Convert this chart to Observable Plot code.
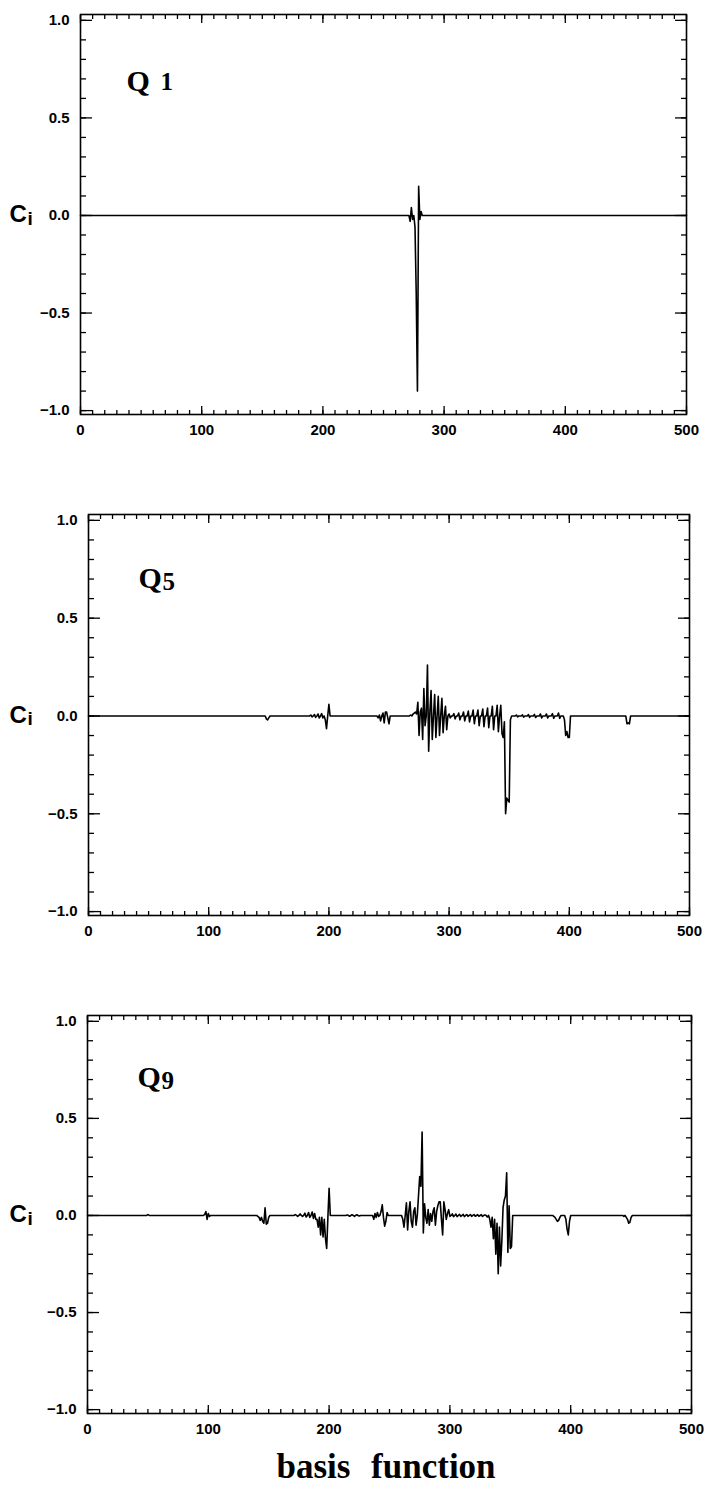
<!DOCTYPE html>
<html><head><meta charset="utf-8">
<script src="https://cdn.jsdelivr.net/npm/d3@7"></script>
<script src="https://cdn.jsdelivr.net/npm/@observablehq/plot@0.6"></script>
<style>
html,body{margin:0;padding:0;background:#fff;}
body{width:706px;height:1488px;position:relative;overflow:hidden;}
.panel{position:absolute;left:0;}
#xlabel{position:absolute;left:0;width:772px;top:1449px;text-align:center;font-family:"Liberation Serif",serif;font-weight:bold;font-size:35px;line-height:1;word-spacing:12px;color:#000;}
</style></head><body>
<div id="p1" class="panel" style="top:0px"></div>
<div id="p2" class="panel" style="top:500px"></div>
<div id="p3" class="panel" style="top:1001px"></div>
<div id="xlabel">basis function</div>
<script>
// ---- axis ticks ----
const xMajorTicks = [0, 100, 200, 300, 400, 500];
const xMinorTicks = d3.range(0, 501, 10);
const yMajorTicks = [-1.0, -0.5, 0.0, 0.5, 1.0];
const yMinorTicks = d3.range(-10, 11).map(k => k / 10);
const basisIndex = d3.range(0, 501);
const xAxisLabel = "basis function";
const yAxisLabel = ["C", "i"];

// ---- Q1 coefficients (non-zero entries) ----
const q1Index = [272, 273, 274, 275, 276, 277, 278, 279, 280, 281, 282];
const q1Coef  = [-0.03, 0.04, -0.02, 0.0, -0.06, -0.40, -0.90, 0.15, -0.02, 0.02, 0.0];

// ---- Q5 coefficients (non-zero entries) ----
const q5Index = [148,149,150, 185,186,188,189,191,192,194,195, 197,198,199,200,201,
  241,242,243,244,245,246,247,248,249,250,251,
  268,270,271,272,273,274,275,276,277,278,279,280,281,282,283,284,285,286,287,288,289,290,291,292,293,294,295,296,297,298,
  300,301,304,305,308,309,312,313,316,317,320,321,324,325,328,329,332,333,336,337,340,341,343,344,
  345,346,347,348,349,350,351,
  356,357,361,362,366,367,371,372,376,377,381,382,386,387,391,392,
  396,397,398,399,400,401, 448,449,450,451];
const q5Coef = [-0.015,-0.02,-0.01, 0.005,-0.005,0.007,-0.007,0.01,-0.01,0.012,-0.01, -0.02,-0.065,0.0,0.06,0.0,
  -0.01,0.005,-0.025,0.0,0.015,-0.035,0.02,0.02,-0.01,-0.04,0.0,
  0.005,0.01,0.015,0.02,0.01,0.07,-0.10,0.02,0.04,-0.12,0.14,-0.05,0.0,0.26,-0.18,0.02,0.13,-0.12,0.0,0.11,-0.11,0.0,0.10,-0.10,0.0,0.09,-0.085,0.0,0.05,-0.07,
  0.01,-0.01,0.012,-0.015,0.015,-0.02,0.02,-0.025,0.025,-0.03,0.03,-0.04,0.03,-0.05,0.035,-0.055,0.04,-0.06,0.05,-0.07,0.055,-0.08,0.055,-0.09,
  -0.11,-0.03,-0.50,-0.42,-0.43,-0.44,-0.02,
  0.005,-0.005,0.006,-0.006,0.007,-0.007,0.008,-0.008,0.01,-0.01,0.01,-0.01,0.012,-0.012,0.015,-0.012,
  -0.02,-0.10,-0.08,-0.11,-0.11,0.0, -0.04,-0.035,-0.04,0.0];

// ---- Q9 coefficients (non-zero entries) ----
const q9Index = [50, 97,98,99,100,101,
  141,142,143,144,145,146,147,148,149,150,
  172,174,176,178,180,181,183,184,186,187,188,189,
  190,191,192,193,194,195,196,197,198,199,200,
  215,217,219,221,223,225,
  237,238,239,240,241,243,244,245,246,247,248,249,
  261,262,263,264,265,266,267,268,269,270,271,272,273,274,275,276,277,278,279,280,281,282,283,284,285,286,287,288,289,290,291,292,293,294,295,296,297,298,299,300,
  302,303,305,306,308,309,311,312,314,315,317,318,320,321,323,324,326,327,329,331,
  333,334,335,336,337,338,339,340,341,342,343,344,345,346,347,348,349,350,351,352,
  386,387,388,389,390,391, 396,397,398,399,400,
  444,446,447,448,449,450];
const q9Coef = [0.005, 0.005,0.02,-0.02,0.01,-0.005,
  -0.005,-0.01,-0.025,-0.01,-0.03,-0.04,0.04,-0.045,-0.04,-0.01,
  0.005,-0.005,0.008,-0.005,0.012,-0.008,0.015,-0.01,0.018,-0.015,0.01,-0.02,
  -0.02,-0.06,-0.01,-0.10,-0.01,-0.11,-0.02,-0.12,-0.17,-0.01,0.14,
  0.003,-0.004,0.004,-0.005,0.004,-0.003,
  -0.02,0.01,-0.01,0.015,-0.005,0.02,0.055,-0.01,-0.055,-0.03,0.015,0.0,
  -0.02,-0.06,0.0,0.065,-0.075,0.02,0.07,-0.03,-0.06,0.02,0.04,-0.05,0.0,0.10,0.20,0.15,0.43,-0.09,0.06,-0.01,-0.04,0.03,-0.05,0.01,-0.03,0.02,0.04,-0.05,0.02,0.05,0.07,0.07,-0.02,-0.10,0.07,0.03,-0.02,0.01,0.03,-0.005,
  0.008,-0.006,0.007,-0.006,0.006,-0.005,0.006,-0.006,0.005,-0.005,0.005,-0.005,0.005,-0.004,0.004,-0.004,0.004,-0.005,0.003,-0.008,
  -0.02,-0.06,-0.01,-0.12,-0.02,-0.20,-0.04,-0.30,-0.06,-0.26,-0.13,0.04,0.08,0.10,0.22,-0.19,0.05,-0.17,-0.16,0.0,
  -0.005,-0.01,-0.02,-0.03,-0.025,-0.01, -0.02,-0.07,-0.10,-0.03,0.0,
  -0.005,-0.01,-0.02,-0.04,-0.035,-0.01];

const panels = [
  {el: "#p1", index: q1Index, coef: q1Coef, num: "1", mLeft: 80, mRight: 20, height: 440, qDx: 46, numDx: 80, qDy: 67, numDy: 67},
  {el: "#p2", index: q5Index, coef: q5Coef, num: "5", mLeft: 88, mRight: 17, height: 441, qDx: 50, numDx: 74, qDy: 64, numDy: 67},
  {el: "#p3", index: q9Index, coef: q9Coef, num: "9", mLeft: 87, mRight: 15, height: 438, qDx: 50, numDx: 74, qDy: 62, numDy: 65}
];
const qLetter = "Q";

const yFmt = d3.format(".1f");

for (const p of panels) {
  const lookup = new Map(p.index.map((k, j) => [k, p.coef[j]]));
  const rows = basisIndex.map(i => ({i, c: lookup.has(i) ? lookup.get(i) : 0}));
  const tickOpts = {fill: "none", label: null, strokeWidth: 1.3};
  const chart = Plot.plot({
    width: 706,
    height: p.height,
    marginTop: 14,
    marginBottom: 26,
    marginLeft: p.mLeft,
    marginRight: p.mRight,
    style: {fontFamily: "'Liberation Sans', Arial, sans-serif", fontSize: "15px", fontWeight: "bold", background: "#fff", color: "#000"},
    x: {domain: [0, 500]},
    y: {domain: [-1.02, 1.03]},
    marks: [
      Plot.axisX({ticks: xMinorTicks, anchor: "bottom", tickSize: -4, ...tickOpts}),
      Plot.axisX({ticks: xMajorTicks, anchor: "bottom", tickSize: -8, ...tickOpts}),
      Plot.axisX({ticks: xMinorTicks, anchor: "top", tickSize: -4, ...tickOpts}),
      Plot.axisX({ticks: xMajorTicks, anchor: "top", tickSize: -8, ...tickOpts}),
      Plot.axisY({ticks: yMinorTicks, anchor: "left", tickSize: -6, ...tickOpts}),
      Plot.axisY({ticks: yMajorTicks, anchor: "left", tickSize: -12, ...tickOpts}),
      Plot.axisY({ticks: yMinorTicks, anchor: "right", tickSize: -6, ...tickOpts}),
      Plot.axisY({ticks: yMajorTicks, anchor: "right", tickSize: -12, ...tickOpts}),
      Plot.axisX({ticks: xMajorTicks, anchor: "bottom", tickSize: 0, tickPadding: 10, label: null, tickFormat: d => String(d)}),
      Plot.axisY({ticks: yMajorTicks, anchor: "left", tickSize: 0, tickPadding: 11, label: null, tickFormat: yFmt}),
      Plot.frame({stroke: "#000", strokeWidth: 1.6}),
      Plot.line(rows, {x: "i", y: "c", stroke: "#000", strokeWidth: 1.6, curve: "linear"}),
      Plot.text([qLetter], {frameAnchor: "top-left", dx: p.qDx, dy: p.qDy, text: d => d, textAnchor: "start", lineAnchor: "middle",
        fontFamily: "'Liberation Serif', serif", fontWeight: "bold", fontSize: 30, fill: "#000"}),
      Plot.text([p.num], {frameAnchor: "top-left", dx: p.numDx, dy: p.numDy, text: d => d, textAnchor: "start", lineAnchor: "middle",
        fontFamily: "'Liberation Serif', serif", fontWeight: "bold", fontSize: 25, fill: "#000"}),
      Plot.text([yAxisLabel[0]], {frameAnchor: "left", dx: 9 - p.mLeft, dy: 0, text: d => d, textAnchor: "start", lineAnchor: "middle",
        fontFamily: "'Liberation Sans', Arial, sans-serif", fontWeight: "bold", fontSize: 24, fill: "#000"}),
      Plot.text([yAxisLabel[1]], {frameAnchor: "left", dx: 27 - p.mLeft, dy: 4, text: d => d, textAnchor: "start", lineAnchor: "middle",
        fontFamily: "'Liberation Sans', Arial, sans-serif", fontWeight: "bold", fontSize: 19, fill: "#000"})
    ]
  });
  document.querySelector(p.el).appendChild(chart);
}
document.querySelector("#xlabel").textContent = xAxisLabel;
</script>
</body></html>
